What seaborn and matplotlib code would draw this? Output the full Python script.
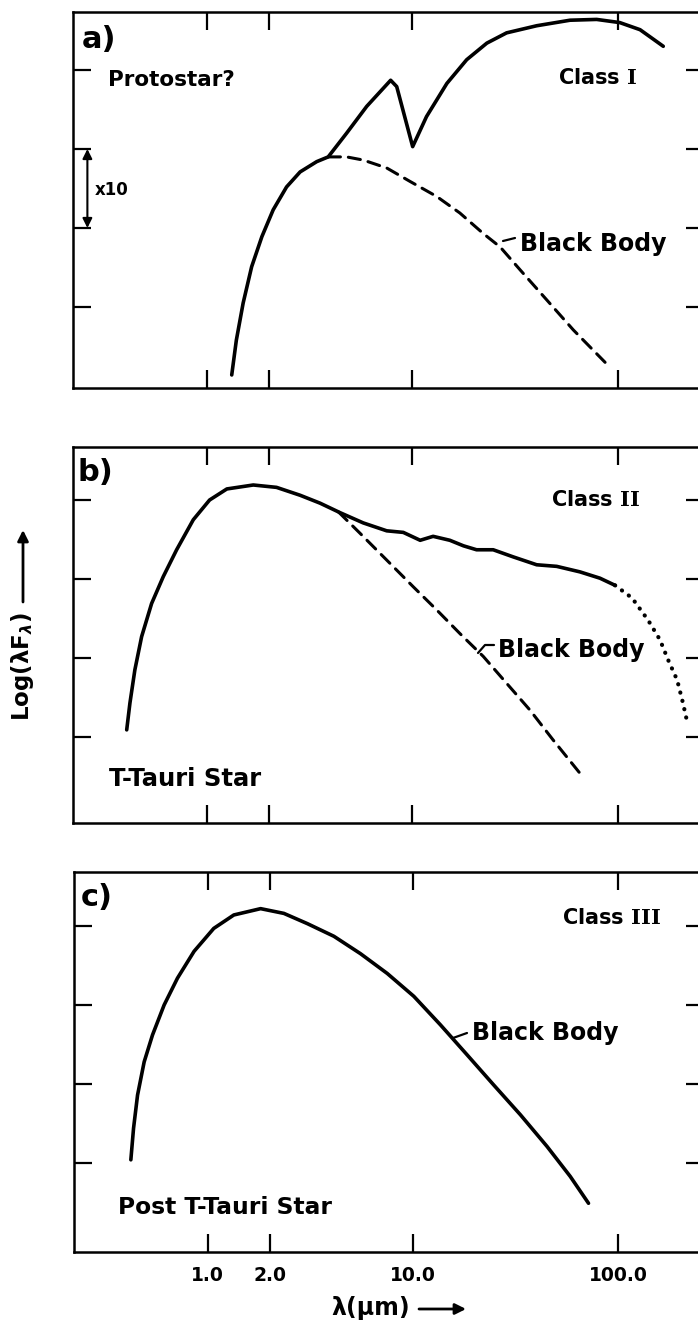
import matplotlib
matplotlib.use("Agg")
import matplotlib.pyplot as plt
import matplotlib.ticker as mticker
from matplotlib.lines import Line2D
from matplotlib.patches import FancyArrowPatch
import seaborn as sns

# wavelength (micron) and Log(lambda F_lambda)
# a) Class I protostar
wl_a = [1.32, 1.39, 1.50, 1.65, 1.85, 2.10, 2.44, 2.84, 3.42, 3.89, 4.78, 5.99,
        7.83, 8.38, 10.02, 11.7, 14.7, 18.35, 23.0, 28.7, 40.2, 58.4, 78.7,
        102, 128, 166]
sed_a = [0.14, 0.58, 1.05, 1.51, 1.89, 2.23, 2.52, 2.71, 2.84, 2.90, 3.20, 3.54,
         3.87, 3.79, 3.03, 3.41, 3.83, 4.13, 4.34, 4.47, 4.56, 4.63, 4.64,
         4.60, 4.51, 4.30]
wl_bb_a = [3.89, 4.78, 5.76, 7.49, 9.72, 13.1, 17.0, 22.1, 26.7, 33.4, 45.0,
           60.6, 86.5]
bb_a = [2.90, 2.90, 2.86, 2.76, 2.59, 2.40, 2.19, 1.93, 1.76, 1.47, 1.09,
        0.71, 0.30]

# b) Class II T-Tauri star
wl_b = [0.407, 0.422, 0.446, 0.481, 0.538, 0.613, 0.712, 0.858, 1.03, 1.25,
        1.68, 2.18, 2.84, 3.55, 4.44, 5.76, 7.49, 9.02, 10.9, 12.6, 15.2, 17.7,
        20.5, 24.7, 30.9, 40.2, 50.3, 65.3, 81.7, 96.7]
sed_b = [1.09, 1.43, 1.85, 2.27, 2.69, 3.03, 3.37, 3.75, 4.00, 4.14,
         4.19, 4.16, 4.06, 3.96, 3.84, 3.71, 3.61, 3.59, 3.49, 3.54, 3.49, 3.42,
         3.37, 3.37, 3.28, 3.18, 3.16, 3.09, 3.01, 2.92]
wl_ext_b = [96.7, 117, 140, 160, 175, 194, 207, 217]
ext_b = [2.92, 2.76, 2.48, 2.23, 1.98, 1.72, 1.43, 1.19]
wl_bb_b = [4.36, 5.55, 7.49, 10.1, 13.1, 17.0, 22.1, 28.7, 37.3, 48.4, 65.3]
bb_b = [3.85, 3.58, 3.24, 2.90, 2.61, 2.31, 2.02, 1.68, 1.34, 0.96, 0.54]

# c) Class III post T-Tauri star
wl_c = [0.422, 0.435, 0.455, 0.490, 0.538, 0.613, 0.712, 0.858, 1.07, 1.34,
        1.81, 2.35, 3.06, 4.12, 5.55, 7.49, 10.1, 13.6, 18.35, 24.7, 33.4,
        45.0, 58.4, 71.7]
sed_c = [1.04, 1.44, 1.86, 2.28, 2.62, 3.00, 3.34, 3.68, 3.97, 4.14,
         4.22, 4.16, 4.03, 3.87, 3.65, 3.40, 3.11, 2.75, 2.37, 1.99, 1.61,
         1.21, 0.83, 0.49]

xticks = [1.0, 2.0, 10.0, 100.0]
xtick_labels = ["1.0", "2.0", "10.0", "100.0"]

sns.set_style("white")
plt.rcParams["font.family"] = ["DejaVu Sans"]
plt.rcParams["font.weight"] = "bold"
plt.rcParams["text.color"] = "black"
plt.rcParams["xtick.color"] = "black"
plt.rcParams["ytick.color"] = "black"
plt.rcParams["mathtext.fontset"] = "custom"
plt.rcParams["mathtext.rm"] = "DejaVu Sans:bold"
plt.rcParams["mathtext.bf"] = "DejaVu Serif:bold"

W, H = 698, 1326
fig = plt.figure(figsize=(W / 100, H / 100), dpi=100)


def box(left, top, right, bottom):
    return [left / W, 1 - bottom / H, (right - left) / W, (bottom - top) / H]


def ftext(px, py, s, **kw):
    kw.setdefault("va", "center")
    kw.setdefault("ha", "left")
    kw.setdefault("fontweight", "bold")
    kw.setdefault("color", "black")
    fig.text(px / W, 1 - py / H, s, **kw)


def fline(pts, lw=1.6):
    xs = [p[0] / W for p in pts]
    ys = [1 - p[1] / H for p in pts]
    fig.add_artist(Line2D(xs, ys, transform=fig.transFigure, color="black",
                          lw=lw, solid_capstyle="round"))


def farrow(p0, p1):
    fig.add_artist(FancyArrowPatch(
        (p0[0] / W, 1 - p0[1] / H), (p1[0] / W, 1 - p1[1] / H),
        transform=fig.transFigure, arrowstyle="-|>", mutation_scale=16,
        lw=2, color="black", shrinkA=0, shrinkB=0))


def style_axis(ax, ylim, labels=False):
    ax.set_xscale("log")
    ax.set_xlim(0.223, 262)
    ax.set_ylim(*ylim)
    ax.set_xticks(xticks)
    ax.xaxis.set_minor_locator(mticker.NullLocator())
    ax.set_yticks([1, 2, 3, 4])
    ax.set_yticklabels([])
    if labels:
        ax.set_xticklabels(xtick_labels, fontsize=13.5, fontweight="bold")
    else:
        ax.set_xticklabels([])
    ax.tick_params(which="both", direction="in", top=True, right=True, bottom=True,
                   left=True, length=13, width=1.6, pad=10, color="black")
    for s in ax.spines.values():
        s.set_visible(True)
        s.set_color("black")
        s.set_linewidth(1.8)
    ax.set_xlabel("")
    ax.set_ylabel("")


solid = dict(color="black", lw=2.6, sort=False, estimator=None)
dashed = dict(color="black", lw=2.2, sort=False, estimator=None,
              dashes=(4, 2.6))

# panel a
ax_a = fig.add_axes(box(73, 12, 704, 388))
sns.lineplot(x=wl_a, y=sed_a, ax=ax_a, **solid)
sns.lineplot(x=wl_bb_a, y=bb_a, ax=ax_a, **dashed)
style_axis(ax_a, (-0.025, 4.734))
ax_a.annotate("", xy=(0.262, 3), xytext=(0.262, 2),
              arrowprops=dict(arrowstyle="<|-|>", color="black", lw=1.5,
                              mutation_scale=14, shrinkA=0, shrinkB=0))

# panel b
ax_b = fig.add_axes(box(73, 447, 704, 823))
sns.lineplot(x=wl_b, y=sed_b, ax=ax_b, **solid)
sns.lineplot(x=wl_bb_b, y=bb_b, ax=ax_b, **dashed)
sns.lineplot(x=wl_ext_b, y=ext_b, ax=ax_b, color="black", lw=3.0, sort=False,
             estimator=None, dashes=(0.05, 2.0))
style_axis(ax_b, (-0.089, 4.671))

# panel c
ax_c = fig.add_axes(box(74, 872, 704, 1252))
sns.lineplot(x=wl_c, y=sed_c, ax=ax_c, **solid)
style_axis(ax_c, (-0.127, 4.684), labels=True)

for ax in (ax_a, ax_b, ax_c):
    for ln in ax.get_lines():
        ln.set_dash_capstyle("round")
        ln.set_solid_capstyle("round")
        ln.set_solid_joinstyle("round")

# annotations
ftext(82, 39, "a)", fontsize=22)
ftext(108, 80, "Protostar?", fontsize=15.5)
ftext(558, 78, r"Class $\mathbf{I}$", fontsize=15)
ftext(95, 190, "x10", fontsize=12)
ftext(520, 244, "Black Body", fontsize=17)
fline([(503, 241), (515, 238)])

ftext(78, 472, "b)", fontsize=22)
ftext(551, 500, r"Class $\mathbf{II}$", fontsize=15)
ftext(498, 650, "Black Body", fontsize=17)
fline([(478, 653), (485, 645), (494, 645)])
ftext(109, 779, "T-Tauri Star", fontsize=17.5)

ftext(81, 898, "c)", fontsize=22)
ftext(562, 918, r"Class $\mathbf{III}$", fontsize=15)
ftext(472, 1033, "Black Body", fontsize=17)
fline([(453, 1038), (467, 1033)])
ftext(118, 1208, "Post T-Tauri Star", fontsize=16.8)

# axis labels with arrows
ftext(23, 667, r"Log(λF$_{\lambda}$)", fontsize=16.5, rotation=90, ha="center")
farrow((23, 602), (23, 530))
ftext(371, 1308, "λ(μm)", fontsize=17, ha="center")
farrow((419, 1309), (466, 1309))

fig.savefig("out.png", dpi=100)
